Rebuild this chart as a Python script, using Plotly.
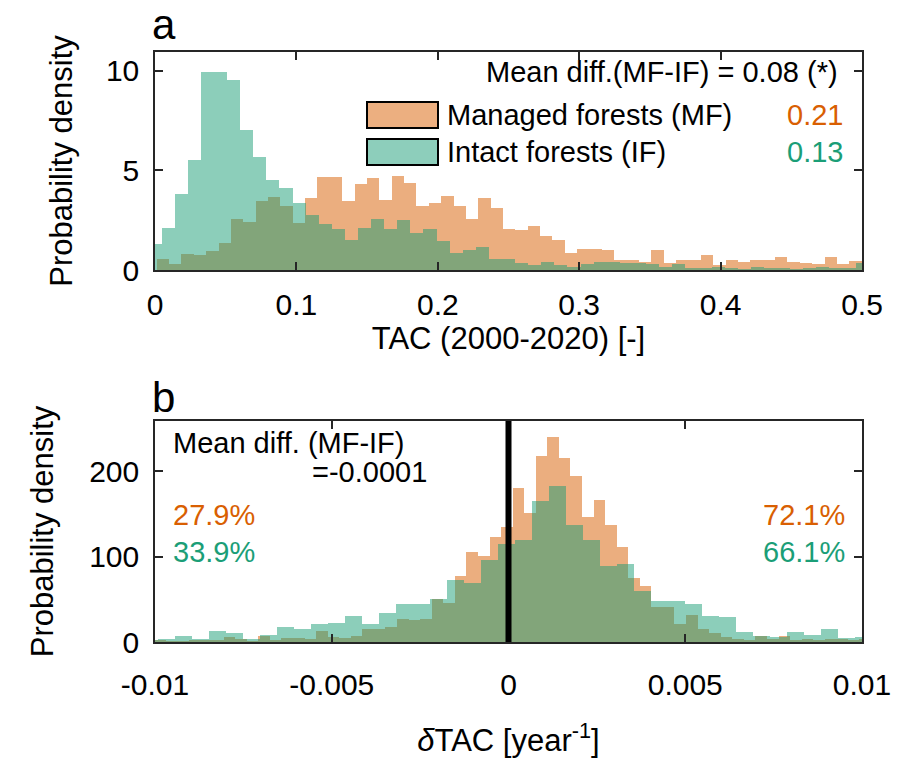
import plotly.graph_objects as go

# ---------------- data ----------------
# Panel a: TAC (2000-2020) probability density histograms
tac_mf_bin_start = 0.0012
tac_mf_bin_width = 0.008746
tac_mf_density = [0.56, 0.31, 0.78, 0.73, 0.93, 1.35, 2.54, 2.4, 3.46, 3.69,
                  3.21, 2.35, 3.6, 4.66, 4.66, 3.49, 4.33, 4.61, 3.53, 4.71,
                  4.36, 3.19, 3.36, 3.74, 3.19, 2.54, 3.61, 3.11, 2.07, 2.02,
                  2.2, 1.73, 1.52, 0.86, 1.06, 1.06, 0.98, 0.48, 0.48, 0.39,
                  0.98, 0.36, 0.51, 0.51, 0.73, 0.23, 0.51, 0.39, 0.48, 0.51,
                  0.64, 0.39, 0.36, 0.31, 0.64, 0.31, 0.44]
tac_if_bin_start = -0.0046
tac_if_bin_width = 0.00926
tac_if_density = [1.3, 2.1, 3.83, 5.55, 9.94, 9.94, 9.56, 7.05, 5.67, 4.5,
                  4.11, 3.36, 2.76, 2.3, 2.04, 1.52, 2.12, 2.57, 2.07, 2.49,
                  1.85, 2.04, 1.45, 0.85, 1.01, 1.15, 0.53, 0.53, 0.36, 0.23,
                  0.39, 0.25, 0.15, 0.3, 0.39, 0.42, 0.33, 0.33, 0.3, 0.15,
                  0.3, 0.08, 0.1, 0.15, 0.12, 0.05, 0.15, 0.1, 0.1, 0.05,
                  0.1, 0.15, 0.08, 0.1, 0.35]

# Panel b: delta TAC probability density histograms
dtac_mf_bin_start = -0.01002
dtac_mf_bin_width = 0.000327
dtac_mf_density = [2.4, 0.5, 0.5, 1.2, 1.2, 2, 5.9, 3.1, 0.5, 7,
                   1.2, 5, 5, 4, 13, 6, 5, 7, 15, 15,
                   17, 27, 26, 27, 50, 46, 77, 106, 101, 123,
                   135, 181, 151, 218, 240, 216, 195, 146, 166, 137,
                   111, 75, 66, 40.5, 40.5, 21, 32, 15, 11, 6,
                   3, 1.2, 7, 3, 7, 2, 3, 2, 3, 3,
                   1.2, 3]
dtac_if_bin_start = -0.010388
dtac_if_bin_width = 0.000481
dtac_if_density = [2, 3, 7, 3, 13, 10, 4, 8, 17.7, 15,
                   21.6, 22, 29.9, 21.6, 33.5, 44.5, 44.5, 50.4, 72.8, 69,
                   96.4, 115, 120, 165, 183, 137, 119, 89, 91.7, 60.2,
                   48.4, 48.4, 44.5, 30, 29.5, 12, 7, 6, 12.2, 8,
                   15.5, 4.3, 6]

series_names = ["Managed forests (MF)", "Intact forests (IF)"]
tac_means = ["0.21", "0.13"]
tac_mean_diff = "Mean diff.(MF-IF) = 0.08 (*)"
dtac_mean_diff = ["Mean diff. (MF-IF)", "=-0.0001"]
dtac_neg_share = ["27.9%", "33.9%"]
dtac_pos_share = ["72.1%", "66.1%"]

xa_ticks = [0, 0.1, 0.2, 0.3, 0.4, 0.5]
xa_ticklabels = ["0", "0.1", "0.2", "0.3", "0.4", "0.5"]
ya_ticks = [0, 5, 10]
ya_ticklabels = ["0", "5", "10"]
xb_ticks = [-0.01, -0.005, 0, 0.005, 0.01]
xb_ticklabels = ["-0.01", "-0.005", "0", "0.005", "0.01"]
yb_ticks = [0, 100, 200]
yb_ticklabels = ["0", "100", "200"]

# ---------------- style ----------------
W, H = 912, 765
FONT = "Liberation Sans, Arial, sans-serif"
AX = "#262626"
MF_COLOR = "rgb(217,95,2)"
IF_COLOR = "rgb(27,158,119)"
MF_PATCH = "rgb(236,175,128)"
IF_PATCH = "rgb(141,206,187)"


def px(x):
    return x / W


def py(y):
    return 1 - y / H


def centers(start, width, vals):
    return [start + width * (i + 0.5) for i in range(len(vals))]


fig = go.Figure()
for (start, width, vals, color, name, xa, ya) in [
    (tac_mf_bin_start, tac_mf_bin_width, tac_mf_density, MF_COLOR, series_names[0], "x", "y"),
    (tac_if_bin_start, tac_if_bin_width, tac_if_density, IF_COLOR, series_names[1], "x", "y"),
    (dtac_mf_bin_start, dtac_mf_bin_width, dtac_mf_density, MF_COLOR, series_names[0], "x2", "y2"),
    (dtac_if_bin_start, dtac_if_bin_width, dtac_if_density, IF_COLOR, series_names[1], "x2", "y2"),
]:
    fig.add_trace(go.Bar(
        x=centers(start, width, vals), y=vals, width=width,
        marker=dict(color=color, line=dict(width=0)),
        opacity=0.5, name=name, showlegend=False,
        xaxis=xa, yaxis=ya,
    ))

axis_common = dict(
    showline=True, linecolor=AX, linewidth=1.5, mirror="ticks",
    ticks="inside", ticklen=8, tickwidth=1.5, tickcolor=AX,
    showgrid=False, zeroline=False, tickfont=dict(family=FONT, size=30, color="black"),
    automargin=False,
)
title_font = dict(family=FONT, size=31, color="black")

fig.update_layout(
    width=W, height=H,
    margin=dict(l=0, r=0, t=0, b=0),
    paper_bgcolor="white", plot_bgcolor="white",
    barmode="overlay", bargap=0,
    font=dict(family=FONT, color="black"),
    xaxis=dict(axis_common, domain=[px(155), px(862)], range=[0, 0.5],
               tickvals=xa_ticks, ticktext=xa_ticklabels, anchor="y",
               ticklabelstandoff=7,
               title=dict(text="TAC (2000-2020) [-]", font=title_font, standoff=8)),
    yaxis=dict(axis_common, domain=[py(270), py(52)], range=[0, 10.95],
               tickvals=ya_ticks, ticktext=ya_ticklabels, anchor="x", ticklabelstandoff=8,
               title=dict(text="Probability density", font=title_font, standoff=24)),
    xaxis2=dict(axis_common, domain=[px(155), px(862)], range=[-0.01, 0.01],
                tickvals=xb_ticks, ticktext=xb_ticklabels, anchor="y2",
                ticklabelstandoff=15,
                title=dict(text="<i>δ</i>TAC [year<sup>-1</sup>]", font=title_font, standoff=30)),
    yaxis2=dict(axis_common, domain=[py(642), py(421)], range=[0, 259],
                tickvals=yb_ticks, ticktext=yb_ticklabels, anchor="x2",
                ticklabelstandoff=8,
                title=dict(text="Probability density", font=title_font, standoff=26)),
)

shapes = [
    dict(type="line", xref="x2", yref="y2 domain", x0=0, x1=0, y0=0, y1=1,
         line=dict(color="black", width=6)),
    dict(type="rect", xref="paper", yref="paper", x0=px(367), x1=px(438),
         y0=py(128), y1=py(102), fillcolor=MF_PATCH, line=dict(color="black", width=2)),
    dict(type="rect", xref="paper", yref="paper", x0=px(367), x1=px(438),
         y0=py(165), y1=py(139), fillcolor=IF_PATCH, line=dict(color="black", width=2)),
]
fig.update_layout(shapes=shapes)

TXT = 29


def ann(text, x, y, anchor="left", color="black", size=TXT):
    return dict(text=text, xref="paper", yref="paper", x=px(x), y=py(y),
                xanchor=anchor, yanchor="middle", showarrow=False,
                font=dict(family=FONT, size=size, color=color))


annotations = [
    ann("a", 150, 25, size=42),
    ann("b", 150, 397, size=42),
    ann(tac_mean_diff, 840, 72, anchor="right"),
    ann(series_names[0], 445, 115),
    ann(series_names[1], 445, 152),
    ann(tac_means[0], 845, 115, anchor="right", color=MF_COLOR),
    ann(tac_means[1], 845, 152, anchor="right", color=IF_COLOR),
    ann(dtac_mean_diff[0], 171, 443),
    ann(dtac_mean_diff[1], 310, 472),
    ann(dtac_neg_share[0], 171, 515, color=MF_COLOR),
    ann(dtac_neg_share[1], 171, 552, color=IF_COLOR),
    ann(dtac_pos_share[0], 847, 515, anchor="right", color=MF_COLOR),
    ann(dtac_pos_share[1], 847, 552, anchor="right", color=IF_COLOR),
]
fig.update_layout(annotations=annotations)

fig.write_html("out.html")
